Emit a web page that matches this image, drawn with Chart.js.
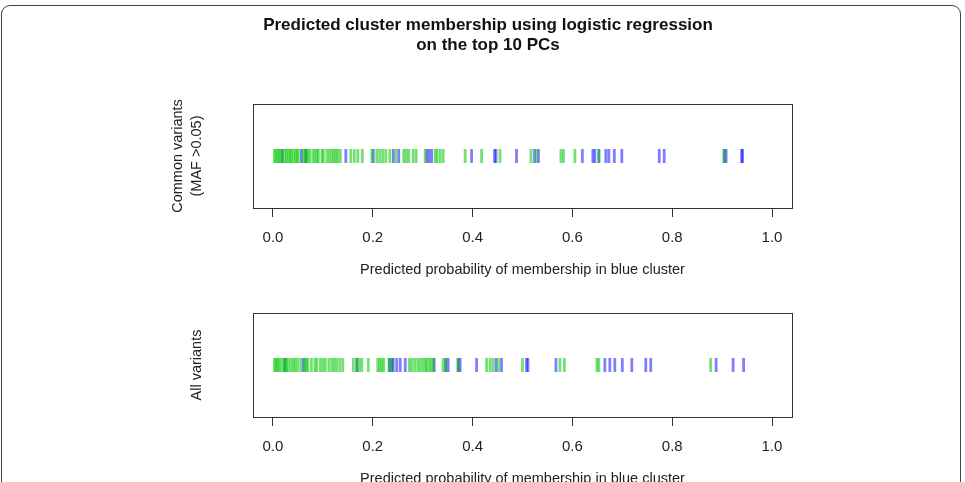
<!DOCTYPE html>
<html>
<head>
<meta charset="utf-8">
<script src="https://cdn.jsdelivr.net/npm/chart.js@4/dist/chart.umd.min.js"></script>
<style>
  html, body { margin: 0; padding: 0; background: #fff; overflow: hidden; }
  body { width: 965px; height: 482px; position: relative; }
  #frame { position: absolute; left: 1px; top: 5px; width: 960px; height: 600px;
           border: 1px solid #444; border-radius: 9px; box-sizing: border-box; }
  .panel { position: absolute; left: 0; width: 965px; }
  #wrapTop { top: 0; height: 300px; }
  #wrapBottom { top: 300px; height: 200px; }
</style>
</head>
<body>
<div id="frame"></div>
<div class="panel" id="wrapTop"><canvas id="chartTop"></canvas></div>
<div class="panel" id="wrapBottom"><canvas id="chartBottom"></canvas></div>
<script>
"use strict";

// predicted probabilities
const commonGreen = [0.003, 0.006, 0.009, 0.012, 0.015, 0.018, 0.024, 0.027, 0.031, 0.034,
  0.037, 0.041, 0.045, 0.048, 0.051, 0.061, 0.064, 0.067, 0.070, 0.074, 0.080, 0.084,
  0.088, 0.091, 0.098, 0.101, 0.108, 0.113, 0.118, 0.122, 0.126, 0.130, 0.135, 0.156,
  0.163, 0.170, 0.179, 0.198, 0.208, 0.214, 0.220, 0.226, 0.234, 0.246, 0.262, 0.267,
  0.272, 0.281, 0.287, 0.305, 0.325, 0.329, 0.335, 0.341, 0.385, 0.418, 0.455, 0.517,
  0.528, 0.577, 0.582, 0.605, 0.653, 0.904];
const commonBlue = [0.019, 0.057, 0.066, 0.146, 0.201, 0.241, 0.252, 0.308, 0.313, 0.318,
  0.398, 0.444, 0.447, 0.488, 0.524, 0.532, 0.620, 0.641, 0.645, 0.653, 0.667, 0.673,
  0.684, 0.699, 0.774, 0.784, 0.904, 0.908, 0.939, 0.941];

const allGreen = [0.003, 0.006, 0.009, 0.012, 0.016, 0.021, 0.024, 0.027, 0.031, 0.036,
  0.041, 0.045, 0.050, 0.056, 0.064, 0.067, 0.070, 0.077, 0.084, 0.088, 0.095, 0.100,
  0.105, 0.112, 0.118, 0.123, 0.128, 0.134, 0.140, 0.161, 0.168, 0.173, 0.178, 0.191,
  0.210, 0.214, 0.218, 0.222, 0.233, 0.238, 0.273, 0.278, 0.284, 0.290, 0.295, 0.300,
  0.305, 0.308, 0.313, 0.317, 0.321, 0.341, 0.346, 0.371, 0.428, 0.435, 0.441, 0.452,
  0.500, 0.575, 0.584, 0.649, 0.653, 0.877];
const allBlue = [0.024, 0.061, 0.168, 0.233, 0.238, 0.241, 0.248, 0.255, 0.265, 0.323,
  0.346, 0.351, 0.371, 0.375, 0.408, 0.447, 0.458, 0.508, 0.511, 0.567, 0.665, 0.675,
  0.685, 0.700, 0.719, 0.747, 0.757, 0.888, 0.922, 0.943];

const tickValues = [0, 0.2, 0.4, 0.6, 0.8, 1.0];
const xTitle = "Predicted probability of membership in blue cluster";
const mainTitle = ["Predicted cluster membership using logistic regression", "on the top 10 PCs"];

const GREEN = "rgba(0, 200, 0, 0.55)";
const BLUE = "rgba(0, 0, 255, 0.5)";
const FONT = "'Liberation Sans', Arial, Helvetica, sans-serif";

// box round the plot region, like R's bty="o"
const boxPlugin = {
  id: "box",
  afterDraw(chart) {
    const a = chart.chartArea;
    const ctx = chart.ctx;
    ctx.save();
    ctx.strokeStyle = "#333";
    ctx.lineWidth = 1;
    ctx.strokeRect(Math.round(a.left) + 0.5, Math.round(a.top) + 0.5,
      Math.round(a.right - a.left), Math.round(a.bottom - a.top));
    ctx.restore();
  },
};

// figure title, centred on the page rather than on the plot box
const mainTitlePlugin = {
  id: "mainTitle",
  afterDraw(chart, args, opts) {
    if (!opts.lines) return;
    const ctx = chart.ctx;
    ctx.save();
    ctx.fillStyle = "#111";
    ctx.font = "bold 17px " + FONT;
    ctx.textAlign = "center";
    ctx.textBaseline = "middle";
    opts.lines.forEach((t, i) => ctx.fillText(t, 488, 25 + i * 20));
    ctx.restore();
  },
};

function strip(values, color) {
  return {
    data: values.map((v) => ({ x: v, y: 0 })),
    pointStyle: "line",
    rotation: 90,
    pointRadius: 7,
    pointHoverRadius: 7,
    borderWidth: 2.8,
    borderColor: color,
    backgroundColor: color,
    showLine: false,
  };
}

function makeChart(id, green, blue, yLabel, yPad, padTop, padBottom, title) {
  return new Chart(document.getElementById(id), {
    type: "scatter",
    data: { datasets: [strip(green, GREEN), strip(blue, BLUE)] },
    options: {
      responsive: true,
      maintainAspectRatio: false,
      animation: false,
      events: [],
      layout: { padding: { left: 150, right: 173, top: padTop, bottom: padBottom } },
      plugins: {
        legend: { display: false },
        tooltip: { enabled: false },
        title: { display: false },
        mainTitle: { lines: title },
      },
      scales: {
        x: {
          type: "linear",
          min: -0.04,
          max: 1.04,
          afterBuildTicks: (s) => { s.ticks = tickValues.map((v) => ({ value: v })); },
          afterFit: (s) => { s.height = 82; },
          border: { display: false },
          grid: { drawOnChartArea: false, drawTicks: true, tickLength: 9, color: "#333", lineWidth: 1 },
          ticks: {
            color: "#222",
            padding: 12,
            maxRotation: 0,
            font: { family: FONT, size: 15 },
            callback: (v) => Number(v).toFixed(1),
          },
          title: {
            display: true,
            text: xTitle,
            color: "#222",
            font: { family: FONT, size: 14.5 },
            padding: { bottom: 11 },
          },
        },
        y: {
          min: -1,
          max: 1,
          afterFit: (s) => { s.width = 103; },
          border: { display: false },
          grid: { display: false },
          ticks: { display: false },
          title: {
            display: true,
            text: yLabel,
            color: "#222",
            font: { family: FONT, size: 14.5, lineHeight: 1.35 },
            padding: { top: yPad },
          },
        },
      },
    },
    plugins: [boxPlugin, mainTitlePlugin],
  });
}

makeChart("chartTop", commonGreen, commonBlue, ["Common variants", "(MAF >0.05)"], 18, 104, 10, mainTitle);
makeChart("chartBottom", allGreen, allBlue, "All variants", 37, 13, 1, null);
</script>
</body>
</html>
